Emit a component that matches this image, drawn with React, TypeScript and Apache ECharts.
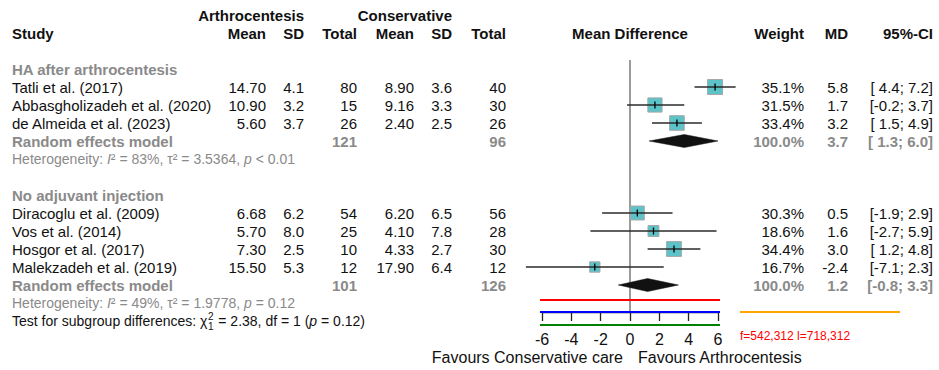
import React, { useEffect, useRef } from "react";
import * as echarts from "echarts";

// ---------- data ----------
const studies = [
  "Tatli et al. (2017)",
  "Abbasgholizadeh et al. (2020)",
  "de Almeida et al. (2023)",
  "Diracoglu et al. (2009)",
  "Vos et al. (2014)",
  "Hosgor et al. (2017)",
  "Malekzadeh et al. (2019)",
];
const subgroupOf = [0, 0, 0, 1, 1, 1, 1];
const meanE = [14.7, 10.9, 5.6, 6.68, 5.7, 7.3, 15.5];
const sdE = [4.1, 3.2, 3.7, 6.2, 8.0, 2.5, 5.3];
const totalE = [80, 15, 26, 54, 25, 10, 12];
const meanC = [8.9, 9.16, 2.4, 6.2, 4.1, 4.33, 17.9];
const sdC = [3.6, 3.3, 2.5, 6.5, 7.8, 2.7, 6.4];
const totalC = [40, 30, 26, 56, 28, 30, 12];
const weights = [35.1, 31.5, 33.4, 30.3, 18.6, 34.4, 16.7];
const md = [5.8, 1.7, 3.2, 0.5, 1.6, 3.0, -2.4];
const ciLow = [4.4, -0.2, 1.5, -1.9, -2.7, 1.2, -7.1];
const ciHigh = [7.2, 3.7, 4.9, 2.9, 5.9, 4.8, 2.3];

const groupNames = ["HA after arthrocentesis", "No adjuvant injection"];
const reTotalE = [121, 101];
const reTotalC = [96, 126];
const reWeight = [100.0, 100.0];
const reMD = [3.7, 1.2];
const reLow = [1.3, -0.8];
const reHigh = [6.0, 3.3];
const hetI2 = ["83%", "49%"];
const hetTau2 = ["3.5364", "1.9778"];
const hetP = ["< 0.01", "= 0.12"];
const testChi2 = "2.38";
const testDf = "1";
const testP = "0.12";
const xTicks = [-6, -4, -2, 0, 2, 4, 6];
const leftLabel = "Favours Conservative care";
const rightLabel = "Favours Arthrocentesis";

// ---------- styling / layout ----------
const FONT = '"Liberation Sans", Arial, Helvetica, sans-serif';
const FS = 15;
const FS_AXIS = 16;
const FS_SMALL = 14;
const GRAY = "#8a8a8a";
const BLACK = "#111";
const AXIS_COLOR = "#222";
const ROW_H = 18;
const Y_MAX = 16.5;
const yv = (row: number) => Y_MAX - row;
const COL = {
  study: 12,
  meanE: 266,
  sdE: 304,
  totalE: 357,
  meanC: 414,
  sdC: 452,
  totalC: 506,
  weight: 804,
  md: 848,
  ci: 933,
};

const f1 = (v: number) => v.toFixed(1);
const f2 = (v: number) => v.toFixed(2);
const ciTxt = (lo: number, hi: number) =>
  `[${lo < 0 ? "" : " "}${f1(lo)}; ${f1(hi)}]`;

type Cell = {
  x: number;
  text?: string;
  rich?: string;
  align: "left" | "right" | "center";
  bold?: boolean;
  color?: string;
  size?: number;
  rel0?: boolean;
};
type Row = { row: number; cells: Cell[] };

function buildRows() {
  const rows: Row[] = [];
  const cell = (x: number, text: string, align: any, bold = false, color = BLACK, size = FS): Cell => ({ x, text, align, bold, color, size });
  rows.push({
    row: 0,
    cells: [cell(COL.sdE, "Arthrocentesis", "right", true), cell(COL.sdC, "Conservative", "right", true)],
  });
  rows.push({
    row: 1,
    cells: [
      cell(COL.study, "Study", "left", true),
      cell(COL.meanE, "Mean", "right", true),
      cell(COL.sdE, "SD", "right", true),
      cell(COL.totalE, "Total", "right", true),
      cell(COL.meanC, "Mean", "right", true),
      cell(COL.sdC, "SD", "right", true),
      cell(COL.totalC, "Total", "right", true),
      { x: 0, text: "Mean Difference", align: "center", bold: true, color: BLACK, size: FS, rel0: true },
      cell(COL.weight, "Weight", "right", true),
      cell(COL.md, "MD", "right", true),
      cell(COL.ci, "95%-CI", "right", true),
    ],
  });
  const studyRow: number[] = [];
  const reRow: number[] = [];
  let r = 3;
  groupNames.forEach((g, gi) => {
    rows.push({ row: r, cells: [cell(COL.study, g, "left", true, GRAY)] });
    r++;
    studies.forEach((s, i) => {
      if (subgroupOf[i] !== gi) return;
      studyRow[i] = r;
      rows.push({
        row: r,
        cells: [
          cell(COL.study, s, "left"),
          cell(COL.meanE, f2(meanE[i]), "right"),
          cell(COL.sdE, f1(sdE[i]), "right"),
          cell(COL.totalE, String(totalE[i]), "right"),
          cell(COL.meanC, f2(meanC[i]), "right"),
          cell(COL.sdC, f1(sdC[i]), "right"),
          cell(COL.totalC, String(totalC[i]), "right"),
          cell(COL.weight, f1(weights[i]) + "%", "right"),
          cell(COL.md, f1(md[i]), "right"),
          cell(COL.ci, ciTxt(ciLow[i], ciHigh[i]), "right"),
        ],
      });
      r++;
    });
    reRow[gi] = r;
    rows.push({
      row: r,
      cells: [
        cell(COL.study, "Random effects model", "left", true, GRAY),
        cell(COL.totalE, String(reTotalE[gi]), "right", true, GRAY),
        cell(COL.totalC, String(reTotalC[gi]), "right", true, GRAY),
        cell(COL.weight, f1(reWeight[gi]) + "%", "right", true, GRAY),
        cell(COL.md, f1(reMD[gi]), "right", true, GRAY),
        cell(COL.ci, ciTxt(reLow[gi], reHigh[gi]), "right", true, GRAY),
      ],
    });
    r++;
    rows.push({
      row: r,
      cells: [
        {
          x: COL.study,
          align: "left",
          rich: `{g|Heterogeneity: }{gi|I}{g|² = ${hetI2[gi]}, τ² = ${hetTau2[gi]}, }{gi|p}{g| ${hetP[gi]}}`,
        },
      ],
    });
    r += 2;
  });
  const testRow = r - 1;
  const labelRow = testRow + 2;
  rows.push({
    row: labelRow,
    cells: [
      { x: -7, text: leftLabel, align: "right", color: BLACK, size: FS_AXIS, rel0: true },
      { x: 8, text: rightLabel, align: "left", color: BLACK, size: FS_AXIS, rel0: true },
    ],
  });
  return { rows, studyRow, reRow, testRow };
}

const { rows: tableRows, studyRow, reRow, testRow } = buildRows();

function measure(text: string, font: string) {
  const c = document.createElement("canvas").getContext("2d");
  if (!c) return text.length * 7;
  c.font = font;
  return c.measureText(text).width;
}

export default function App() {
  const ref = useRef<HTMLDivElement>(null);
  useEffect(() => {
    document.body.style.margin = "0";
    const chart = echarts.init(ref.current!, null, { renderer: "svg" });
    const maxW = Math.max(...weights);

    const testPrefix = "Test for subgroup differences: χ";
    const prefixW = measure(testPrefix, `${FS_SMALL}px ${FONT}`);

    const richStyles = {
      g: { fill: GRAY, fontSize: FS_SMALL, fontFamily: FONT },
      gi: { fill: GRAY, fontSize: FS_SMALL, fontFamily: FONT, fontStyle: "italic" },
      n: { fill: BLACK, fontSize: FS_SMALL, fontFamily: FONT },
      ni: { fill: BLACK, fontSize: FS_SMALL, fontFamily: FONT, fontStyle: "italic" },
    };

    chart.setOption({
      animation: false,
      backgroundColor: "#fff",
      grid: { left: 542, width: 176, top: 15, height: ROW_H * Y_MAX },
      xAxis: {
        type: "value",
        min: xTicks[0],
        max: xTicks[xTicks.length - 1],
        interval: xTicks[1] - xTicks[0],
        splitLine: { show: false },
        axisLine: { show: true, lineStyle: { color: AXIS_COLOR, width: 1.3 } },
        axisTick: { show: true, length: 9, lineStyle: { color: AXIS_COLOR, width: 1.3 } },
        axisLabel: { color: BLACK, fontSize: FS_AXIS, fontFamily: FONT, margin: 19 },
      },
      yAxis: { type: "value", min: 0, max: Y_MAX, show: false },
      series: [
        {
          type: "custom",
          name: "zero",
          clip: false,
          data: [[0, yv(2.5)]],
          renderItem: (params: any, api: any) => {
            const p1 = api.coord([api.value(0), api.value(1)]);
            const p2 = api.coord([api.value(0), 0]);
            return {
              type: "line",
              shape: { x1: p1[0], y1: p1[1], x2: p2[0], y2: p2[1] },
              style: { stroke: "#7a7a7a", lineWidth: 1.5 },
            };
          },
        },
        {
          type: "custom",
          name: "studies",
          clip: false,
          data: studies.map((_, i) => [md[i], yv(studyRow[i]), ciLow[i], ciHigh[i], weights[i]]),
          renderItem: (params: any, api: any) => {
            const m = api.value(0), y = api.value(1), lo = api.value(2), hi = api.value(3), w = api.value(4);
            const c = api.coord([m, y]);
            const a = api.coord([lo, y]);
            const b = api.coord([hi, y]);
            const s = 15 * Math.sqrt(w / maxW);
            return {
              type: "group",
              children: [
                {
                  type: "rect",
                  shape: { x: c[0] - s / 2, y: c[1] - s / 2, width: s, height: s },
                  style: { fill: "#5cc3c8", stroke: "#a8a8a8", lineWidth: 1 },
                },
                {
                  type: "line",
                  shape: { x1: a[0], y1: a[1], x2: b[0], y2: b[1] },
                  style: { stroke: "#2b2b2b", lineWidth: 1.4 },
                },
                {
                  type: "line",
                  shape: { x1: c[0], y1: c[1] - 3.5, x2: c[0], y2: c[1] + 3.5 },
                  style: { stroke: "#000", lineWidth: 1.3 },
                },
              ],
            };
          },
        },
        {
          type: "custom",
          name: "diamonds",
          clip: false,
          data: groupNames.map((_, gi) => [reMD[gi], yv(reRow[gi]), reLow[gi], reHigh[gi]]),
          renderItem: (params: any, api: any) => {
            const m = api.value(0), y = api.value(1), lo = api.value(2), hi = api.value(3);
            const c = api.coord([m, y]);
            const a = api.coord([lo, y]);
            const b = api.coord([hi, y]);
            const h = 6.5;
            return {
              type: "polygon",
              shape: { points: [[a[0], a[1]], [c[0], c[1] - h], [b[0], b[1]], [c[0], c[1] + h]] },
              style: { fill: "#111", stroke: "#111", lineWidth: 0.5 },
            };
          },
        },
        {
          type: "custom",
          name: "table",
          clip: false,
          silent: true,
          data: tableRows.map((r) => [0, yv(r.row)]),
          renderItem: (params: any, api: any) => {
            const r = tableRows[params.dataIndex];
            const p = api.coord([0, api.value(1)]);
            const x0 = p[0];
            const y = p[1];
            return {
              type: "group",
              children: r.cells.map((c) => {
                const x = c.rel0 ? x0 + c.x : c.x;
                if (c.rich) {
                  return {
                    type: "text",
                    x,
                    y,
                    style: { text: c.rich, rich: richStyles, align: c.align, verticalAlign: "middle" },
                  };
                }
                return {
                  type: "text",
                  x,
                  y,
                  style: {
                    text: c.text,
                    fill: c.color || BLACK,
                    fontSize: c.size || FS,
                    fontFamily: FONT,
                    fontWeight: c.bold ? "bold" : "normal",
                    align: c.align,
                    verticalAlign: "middle",
                  },
                };
              }),
            };
          },
        },
        {
          type: "custom",
          name: "test",
          clip: false,
          silent: true,
          data: [[0, yv(testRow)]],
          renderItem: (params: any, api: any) => {
            const y = api.coord([0, api.value(1)])[1];
            const x = COL.study;
            const base = { fill: BLACK, fontFamily: FONT };
            return {
              type: "group",
              children: [
                { type: "text", x, y, style: { ...base, text: testPrefix, fontSize: FS_SMALL, align: "left", verticalAlign: "middle" } },
                { type: "text", x: x + prefixW + 0.5, y: y - 5, style: { ...base, text: "2", fontSize: 10, align: "left", verticalAlign: "middle" } },
                { type: "text", x: x + prefixW + 0.5, y: y + 5, style: { ...base, text: testDf, fontSize: 10, align: "left", verticalAlign: "middle" } },
                {
                  type: "text",
                  x: x + prefixW + 7,
                  y,
                  style: {
                    text: `{n| = ${testChi2}, df = ${testDf} (}{ni|p}{n| = ${testP})}`,
                    rich: richStyles,
                    align: "left",
                    verticalAlign: "middle",
                  },
                },
              ],
            };
          },
        },
      ],
    });

    const px = (v: number) => chart.convertToPixel({ gridIndex: 0 }, [v, 0]) as number[];
    const first = px(xTicks[0]);
    const last = px(xTicks[xTicks.length - 1]);
    chart.setOption({
      graphic: {
        elements: [
          { type: "line", z: 1000, shape: { x1: 540, y1: 300, x2: 720, y2: 300 }, style: { stroke: "red", lineWidth: 2 } },
          { type: "line", z: 1000, shape: { x1: 540, y1: 312, x2: 720, y2: 312 }, style: { stroke: "blue", lineWidth: 2 } },
          { type: "line", z: 1000, shape: { x1: 540, y1: 325, x2: 720, y2: 325 }, style: { stroke: "green", lineWidth: 2 } },
          { type: "line", z: 1000, shape: { x1: 740, y1: 312, x2: 900, y2: 312 }, style: { stroke: "orange", lineWidth: 2 } },
          { type: "text", z: 1000, x: 740, y: 330, style: { text: `f=${first.join(",")} l=${last.join(",")}`, fontSize: 12, fill: "red" } },
        ],
      },
    });

    return () => chart.dispose();
  }, []);
  return (
    <div
      ref={ref}
      style={{ position: "fixed", left: 0, top: 0, width: 939, height: 370, background: "#fff" }}
    />
  );
}
